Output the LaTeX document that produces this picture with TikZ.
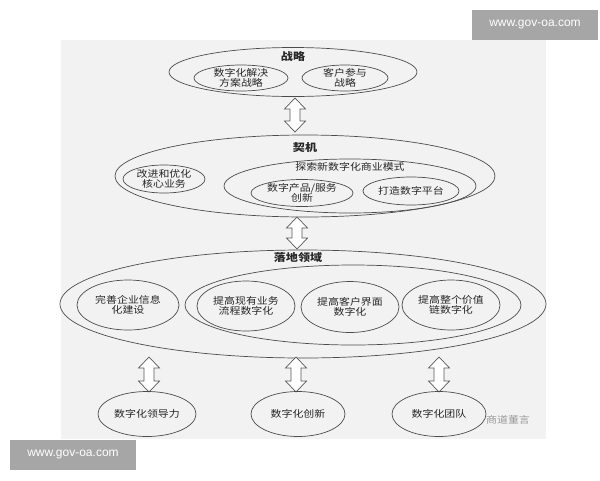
\documentclass[tikz,border=0pt]{standalone}
\usepackage{fontspec}
\setmainfont{Noto Sans CJK SC}
\setsansfont{Liberation Sans}
\begin{document}
\begin{tikzpicture}[x=1pt,y=-1pt,
  ell/.style={draw=black!70,line width=0.7pt},
  lbl/.style={font=\fontsize{9.5}{10.5}\selectfont,xscale=1.15,text=black!85,align=center,inner sep=0},
  ttl/.style={font=\bfseries\fontsize{10.5}{12}\selectfont,xscale=1.15,text=black!85,inner sep=0},
  arr/.style={draw=black!65,fill=white,line width=0.7pt},
  wm/.style={fill=black!35,text=white,font=\sffamily\fontsize{12}{14}\selectfont,inner sep=0,minimum width=126,minimum height=30}]
\newcommand\dblarr[3]{%
  \draw[arr] (#1,#2) -- (#1+10.5,#2+11) -- (#1+5,#2+11) -- (#1+5,#3-11) -- (#1+10.5,#3-11)
   -- (#1,#3) -- (#1-10.5,#3-11) -- (#1-5,#3-11) -- (#1-5,#2+11) -- (#1-10.5,#2+11) -- cycle;}
\useasboundingbox (0,0) rectangle (600,480);
\fill[white] (0,0) rectangle (600,480);
\fill[black!5] (61,40) rectangle (546,439);
% strategy
\draw[ell] (293,72) ellipse [x radius=124,y radius=24.5];
\node[ttl] (t1) at (293,57) {战略};
\draw[ell] (241,78) ellipse [x radius=47,y radius=13];
\node[lbl] (s1) at (241,78) {数字化解决\\方案战略};
\draw[ell] (345,78) ellipse [x radius=43,y radius=13];
\node[lbl] (s2) at (345,78) {客户参与\\战略};
\dblarr{295}{98}{132}
% opportunity
\draw[ell] (305,176) ellipse [x radius=190,y radius=41];
\node[ttl] (t2) at (305,148) {契机};
\draw[ell] (164,179) ellipse [x radius=41,y radius=14];
\node[lbl] (o1) at (164,179) {改进和优化\\核心业务};
\draw[ell] (350,186) ellipse [x radius=126,y radius=27];
\node[lbl] (o2) at (350,167) {探索新数字化商业模式};
\draw[ell] (302,193) ellipse [x radius=51,y radius=13.5];
\node[lbl] (o3) at (302,193) {数字产品/服务\\创新};
\draw[ell] (411,191) ellipse [x radius=48,y radius=14];
\node[lbl] (o4) at (411,191) {打造数字平台};
\dblarr{297}{217}{249}
% landing
\draw[ell] (303,304) ellipse [x radius=243,y radius=54];
\node[ttl] (t3) at (298,258) {落地领域};
\draw[ell] (353,305) ellipse [x radius=168,y radius=40];
\draw[ell] (128,305) ellipse [x radius=51,y radius=25];
\node[lbl] (l1) at (128,305) {完善企业信息\\化建设};
\draw[ell] (246,306) ellipse [x radius=49,y radius=25];
\node[lbl] (l2) at (246,306) {提高现有业务\\流程数字化};
\draw[ell] (350,307) ellipse [x radius=49,y radius=25.5];
\node[lbl] (l3) at (350,307) {提高客户界面\\数字化};
\draw[ell] (451,305) ellipse [x radius=49,y radius=25];
\node[lbl] (l4) at (451,305) {提高整个价值\\链数字化};
\dblarr{149}{357}{392}
\dblarr{296}{357}{392}
\dblarr{439}{357}{392}
% bottom
\draw[ell] (147,414) ellipse [x radius=49,y radius=22.5];
\node[lbl] (b1) at (147,414) {数字化领导力};
\draw[ell] (298,414) ellipse [x radius=47,y radius=22.5];
\node[lbl] (b2) at (298,414) {数字化创新};
\draw[ell] (439,414) ellipse [x radius=47,y radius=22.5];
\node[lbl] (b3) at (439,414) {数字化团队};
\node[lbl,text=black!40] (w3) at (508,420) {商道董言};
% watermarks
\node[wm] (w1) at (535,25) {www.gov-oa.com};
\node[wm] (w2) at (73,455) {www.gov-oa.com};
\end{tikzpicture}
\end{document}
